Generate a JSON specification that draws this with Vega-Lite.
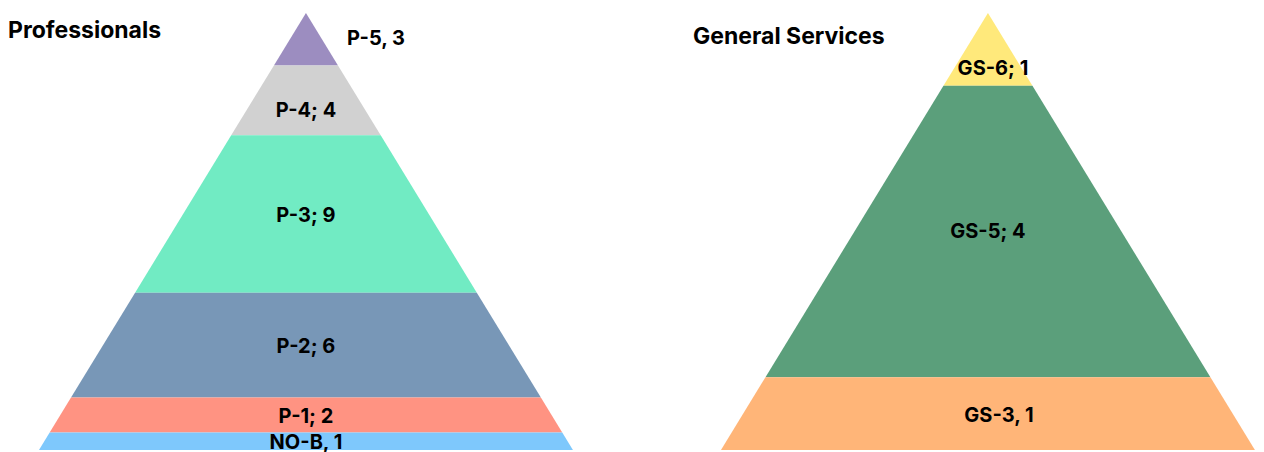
{
  "$schema": "https://vega.github.io/schema/vega-lite/v6.json",
  "background": "white",
  "padding": {"left": 0, "right": 0, "top": 13, "bottom": 2},
  "spacing": 100,
  "config": {
    "view": {"stroke": null},
    "text": {"font": "Inter", "fontWeight": "bold", "fontSize": 20, "color": "black", "baseline": "middle", "align": "center"},
    "title": {"font": "Inter", "fontWeight": "bold", "fontSize": 23, "color": "black", "anchor": "start", "frame": "group", "baseline": "alphabetic"}
  },
  "data": {
    "values": [
      {"group": "Professionals", "grade": "P-5", "count": 3, "rank": 1, "label": "P-5, 3"},
      {"group": "Professionals", "grade": "P-4", "count": 4, "rank": 2, "label": "P-4; 4"},
      {"group": "Professionals", "grade": "P-3", "count": 9, "rank": 3, "label": "P-3; 9"},
      {"group": "Professionals", "grade": "P-2", "count": 6, "rank": 4, "label": "P-2; 6"},
      {"group": "Professionals", "grade": "P-1", "count": 2, "rank": 5, "label": "P-1; 2"},
      {"group": "Professionals", "grade": "NO-B", "count": 1, "rank": 6, "label": "NO-B, 1"},
      {"group": "General Services", "grade": "GS-6", "count": 1, "rank": 1, "label": "GS-6; 1"},
      {"group": "General Services", "grade": "GS-5", "count": 4, "rank": 2, "label": "GS-5; 4"},
      {"group": "General Services", "grade": "GS-3", "count": 1, "rank": 3, "label": "GS-3, 1"}
    ]
  },
  "hconcat": [
    {
      "width": 582,
      "height": 437,
      "title": {"text": "Professionals", "offset": -30, "dx": 8},
      "transform": [
        {"filter": "datum.group === 'Professionals'"},
        {"window": [{"op": "sum", "field": "count", "as": "cumEnd"}], "sort": [{"field": "rank"}], "frame": [null, 0]},
        {"joinaggregate": [{"op": "sum", "field": "count", "as": "total"}]},
        {"calculate": "(datum.cumEnd - datum.count) / datum.total", "as": "top"},
        {"calculate": "datum.cumEnd / datum.total", "as": "bottom"},
        {"calculate": "(datum.top + datum.bottom) / 2", "as": "mid"}
      ],
      "layer": [
        {
          "transform": [
            {"fold": ["top", "bottom"], "as": ["edge", "pos"]},
            {"calculate": "-datum.pos", "as": "neg"}
          ],
          "mark": {"type": "area", "orient": "horizontal"},
          "encoding": {
            "y": {"field": "pos", "type": "quantitative", "scale": {"domain": [0, 1], "reverse": true, "nice": false}, "axis": null},
            "x": {"field": "neg", "type": "quantitative", "stack": null, "scale": {"domain": [-1.146, 1.034], "nice": false, "zero": false}, "axis": null},
            "x2": {"field": "pos"},
            "color": {"field": "grade", "type": "nominal", "legend": null,
              "scale": {"domain": ["P-5", "P-4", "P-3", "P-2", "P-1", "NO-B", "GS-6", "GS-5", "GS-3"],
                        "range": ["#9c8dc0", "#d1d1d1", "#71ebc3", "#7897b7", "#ff9382", "#7ec8fc", "#ffe97b", "#5b9f7b", "#ffb578"]}},
            "detail": {"field": "grade"}
          }
        },
        {
          "transform": [{"filter": "datum.grade !== 'P-5' && datum.grade !== 'P-4'"}],
          "mark": {"type": "text", "dy": 2},
          "encoding": {
            "y": {"field": "mid", "type": "quantitative"},
            "x": {"datum": 0, "type": "quantitative"},
            "text": {"field": "label"}
          }
        },
        {
          "transform": [{"filter": "datum.grade === 'P-5'"}],
          "mark": {"type": "text", "dx": 70, "dy": 0},
          "encoding": {
            "y": {"field": "mid", "type": "quantitative"},
            "x": {"datum": 0, "type": "quantitative"},
            "text": {"field": "label"}
          }
        },
        {
          "transform": [{"filter": "datum.grade === 'P-4'"}],
          "mark": {"type": "text", "dy": 11},
          "encoding": {
            "y": {"field": "mid", "type": "quantitative"},
            "x": {"datum": 0, "type": "quantitative"},
            "text": {"field": "label"}
          }
        }
      ]
    },
    {
      "width": 582,
      "height": 437,
      "title": {"text": "General Services", "offset": -36, "dx": 11},
      "transform": [
        {"filter": "datum.group === 'General Services'"},
        {"window": [{"op": "sum", "field": "count", "as": "cumEnd"}], "sort": [{"field": "rank"}], "frame": [null, 0]},
        {"joinaggregate": [{"op": "sum", "field": "count", "as": "total"}]},
        {"calculate": "(datum.cumEnd - datum.count) / datum.total", "as": "top"},
        {"calculate": "datum.cumEnd / datum.total", "as": "bottom"},
        {"calculate": "(datum.top + datum.bottom) / 2", "as": "mid"}
      ],
      "layer": [
        {
          "transform": [
            {"fold": ["top", "bottom"], "as": ["edge", "pos"]},
            {"calculate": "-datum.pos", "as": "neg"}
          ],
          "mark": {"type": "area", "orient": "horizontal"},
          "encoding": {
            "y": {"field": "pos", "type": "quantitative", "scale": {"domain": [0, 1], "reverse": true, "nice": false}, "axis": null},
            "x": {"field": "neg", "type": "quantitative", "stack": null, "scale": {"domain": [-1.146, 1.034], "nice": false, "zero": false}, "axis": null},
            "x2": {"field": "pos"},
            "color": {"field": "grade", "type": "nominal", "legend": null,
              "scale": {"domain": ["P-5", "P-4", "P-3", "P-2", "P-1", "NO-B", "GS-6", "GS-5", "GS-3"],
                        "range": ["#9c8dc0", "#d1d1d1", "#71ebc3", "#7897b7", "#ff9382", "#7ec8fc", "#ffe97b", "#5b9f7b", "#ffb578"]}},
            "detail": {"field": "grade"}
          }
        },
        {
          "transform": [{"filter": "datum.grade === 'GS-5'"}],
          "mark": {"type": "text", "dy": 0},
          "encoding": {
            "y": {"field": "mid", "type": "quantitative"},
            "x": {"datum": 0, "type": "quantitative"},
            "text": {"field": "label"}
          }
        },
        {
          "transform": [{"filter": "datum.grade === 'GS-6'"}],
          "mark": {"type": "text", "dx": 5, "dy": 20},
          "encoding": {
            "y": {"field": "mid", "type": "quantitative"},
            "x": {"datum": 0, "type": "quantitative"},
            "text": {"field": "label"}
          }
        },
        {
          "transform": [{"filter": "datum.grade === 'GS-3'"}],
          "mark": {"type": "text", "dx": 11, "dy": 2},
          "encoding": {
            "y": {"field": "mid", "type": "quantitative"},
            "x": {"datum": 0, "type": "quantitative"},
            "text": {"field": "label"}
          }
        }
      ]
    }
  ]
}
